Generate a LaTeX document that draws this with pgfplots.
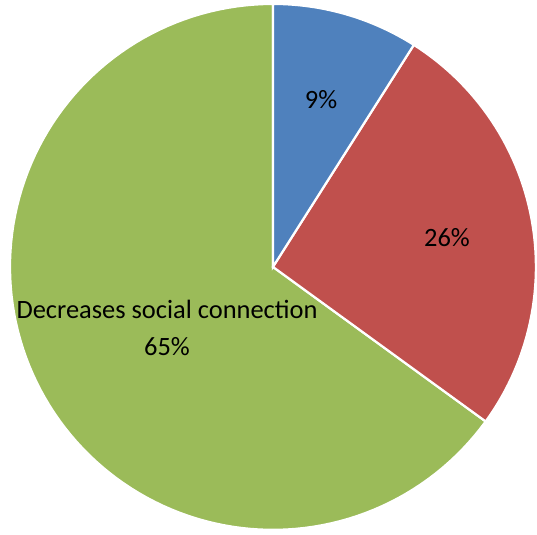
\documentclass[border=0pt]{standalone}
\usepackage{pgfplots}
\pgfplotsset{compat=1.18}
\usepackage{fontspec}
\setmainfont{Carlito}
\definecolor{sblue}{HTML}{4F81BD}
\definecolor{sred}{HTML}{C0504D}
\definecolor{sgreen}{HTML}{9BBB59}
\begin{document}
\begin{tikzpicture}
% shares in percent: 9, 26, 65 -> angles clockwise from top (3.6 deg per percent)
% blue: 90 -> 57.6 ; red: 57.6 -> -36 ; green: -36 -> -270
\begin{axis}[
  x=5cm, y=5cm,
  scale only axis,
  axis lines=none,
  xmin=-1.038, xmax=1.004,
  ymin=-1.019, ymax=1.015,
  clip=false,
]
\path (axis cs:-1.038,-1.019) rectangle (axis cs:1.004,1.015);
\addplot[fill=sgreen, draw=white, line width=1.2pt, domain=-270:-36, samples=120, variable=\t]
  ({cos(\t)},{sin(\t)}) -- (axis cs:0,0) -- cycle;
\addplot[fill=sred, draw=white, line width=1.2pt, domain=-36:57.6, samples=60, variable=\t]
  ({cos(\t)},{sin(\t)}) -- (axis cs:0,0) -- cycle;
\addplot[fill=sblue, draw=white, line width=1.2pt, domain=57.6:90, samples=30, variable=\t]
  ({cos(\t)},{sin(\t)}) -- (axis cs:0,0) -- cycle;
\node[font=\fontsize{14.3}{20}\selectfont] at (axis cs:0.183,0.635) {9\%};
\node[font=\fontsize{14.3}{20}\selectfont] at (axis cs:0.662,0.110) {26\%};
\node[font=\fontsize{14.3}{20}\selectfont, align=center] at (axis cs:-0.403,-0.233) {Decreases social connection\\65\%};
\end{axis}
\end{tikzpicture}
\end{document}
